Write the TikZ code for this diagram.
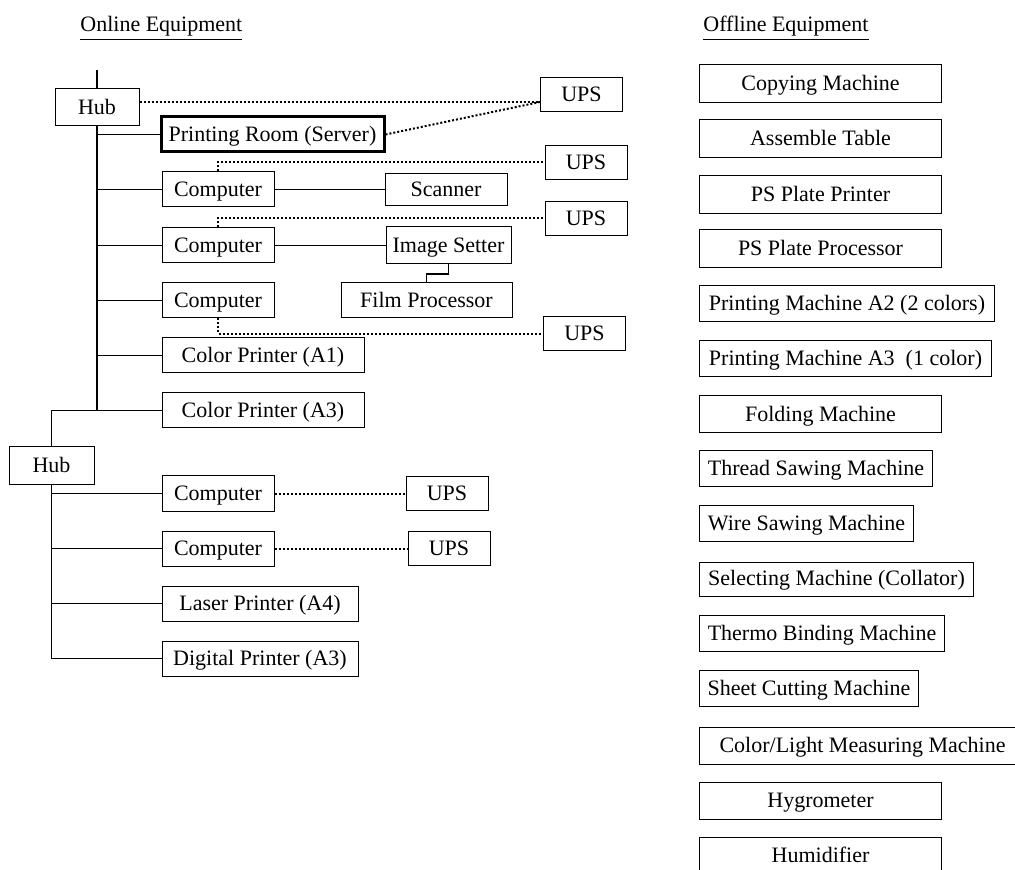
\documentclass[tikz,border=0pt]{standalone}
\usepackage{fontspec}
\setmainfont{Liberation Serif}
\begin{document}
\begin{tikzpicture}[x=0.5pt, y=-0.5pt, font=\fontsize{11}{13}\selectfont,
    unit/.style={draw, line width=0.5pt, inner xsep=1.5pt, inner ysep=1pt,
        text height=0.86em, text depth=0.2em, minimum height=17.5pt},
    ups/.style={unit, minimum width=41pt, minimum height=17pt},
    pc/.style={unit, minimum width=56pt},
    offline/.style={unit, anchor=west, minimum height=18pt},
    heading/.style={anchor=base west, inner sep=0pt},
    link/.style={line width=0.6pt},
    trunk/.style={line width=0.9pt},
    power/.style={line width=1pt, densely dotted}]
    \useasboundingbox (0,0) rectangle (1015,870);

    \node[heading] (online) at (80,32) {\underline{Online Equipment}};
    \node[heading] (offline) at (703,32) {\underline{Offline Equipment}};

    \node[unit, minimum width=42pt, minimum height=18.5pt] (hubA) at (97,107.5) {Hub};
    \node[unit, line width=1.5pt, minimum width=111.5pt] (server) at (272.5,134.5) {Printing Room (Server)};
    \node[ups] (upsA) at (581.5,95) {UPS};
    \node[pc] (compA) at (218,189.5) {Computer};
    \node[unit, minimum width=61pt, minimum height=16pt] (scanner) at (446,189.5) {Scanner};
    \node[ups] (upsB) at (586,162.5) {UPS};
    \node[pc] (compB) at (218,245.5) {Computer};
    \node[unit, minimum width=62.5pt, minimum height=18.5pt] (setter) at (448.5,245.5) {Image Setter};
    \node[ups] (upsC) at (586,218.5) {UPS};
    \node[pc] (compC) at (218,300.5) {Computer};
    \node[unit, minimum width=85.5pt] (film) at (426.5,300.5) {Film Processor};
    \node[ups] (upsD) at (584.5,334) {UPS};
    \node[unit, minimum width=101pt] (printA1) at (263,355.5) {Color Printer (A1)};
    \node[unit, minimum width=101pt] (printA3) at (263,410.5) {Color Printer (A3)};

    \node[unit, minimum width=42.5pt, minimum height=18.5pt] (hubB) at (51.5,465.5) {Hub};
    \node[pc] (compD) at (218,493.5) {Computer};
    \node[ups] (upsE) at (447,493.5) {UPS};
    \node[pc] (compE) at (218,548.5) {Computer};
    \node[ups] (upsF) at (449,548.5) {UPS};
    \node[unit, minimum width=98pt] (laser) at (260,603.5) {Laser Printer (A4)};
    \node[unit, minimum width=98pt] (digital) at (260,658.5) {Digital Printer (A3)};

    \node[offline, minimum width=121pt, minimum height=19pt] (copier) at (699,84) {Copying Machine};
    \node[offline, minimum width=121pt, minimum height=19pt] (assemble) at (699,139) {Assemble Table};
    \node[offline, minimum width=121pt, minimum height=19pt] (psPrinter) at (699,194.5) {PS Plate Printer};
    \node[offline, minimum width=121pt, minimum height=19pt] (psProc) at (699,249) {PS Plate Processor};
    \node[offline, minimum width=147.5pt] (pressA2) at (699,303.5) {Printing Machine A2 (2 colors)};
    \node[offline, minimum width=146pt] (pressA3) at (699,358.5) {Printing Machine A3~~(1 color)};
    \node[offline, minimum width=121pt, minimum height=18.5pt] (folder) at (699,414.5) {Folding Machine};
    \node[offline, minimum width=116.5pt] (threadSaw) at (699,468.5) {Thread Sawing Machine};
    \node[offline, minimum width=107pt] (wireSaw) at (699,523.5) {Wire Sawing Machine};
    \node[offline, minimum width=137pt, minimum height=17pt] (collator) at (699,579) {Selecting Machine (Collator)};
    \node[offline, minimum width=122.5pt] (thermo) at (699,633.5) {Thermo Binding Machine};
    \node[offline, minimum width=109.5pt] (cutter) at (699,688.5) {Sheet Cutting Machine};
    \node[offline, minimum width=163pt, minimum height=18.5pt] (meter) at (699,745.5) {Color/Light Measuring Machine};
    \node[offline, minimum width=121pt, minimum height=18.5pt] (hygro) at (699,800.5) {Hygrometer};
    \node[offline, minimum width=121pt, minimum height=18.5pt] (humid) at (699,855.5) {Humidifier};

    \coordinate (top) at (97,70);
    \coordinate (trunkA) at (97,410.5);
    \coordinate (upsAin) at ([yshift=-3.5pt]upsA.west);
    \coordinate (jog) at (448.5,274);

    \draw[link] (top) -- (hubA.north);
    \draw[trunk] (hubA.south) -- (trunkA) -- (printA3.west);
    \draw[link] (trunkA) -| (hubB.north);
    \foreach \n in {server, compA, compB, compC, printA1}
        \draw[link] (trunkA |- \n.west) -- (\n.west);
    \draw[trunk] (hubB.south) |- (digital.west);
    \foreach \n in {compD, compE, laser}
        \draw[link] (hubB.south |- \n.west) -- (\n.west);

    \draw[link] (compA.east) -- (scanner.west);
    \draw[link] (compB.east) -- (setter.west);
    \draw[link] (setter.south) -- (jog) -| (film.north);

    \draw[power] (hubA.east |- upsAin) -- (upsAin);
    \draw[power] (server.east) -- (upsAin);
    \draw[power] (compA.north) |- (upsB.west);
    \draw[power] (compB.north) |- (upsC.west);
    \draw[power] (compC.south) |- (upsD.west);
    \draw[power] (compD.east) -- (upsE.west);
    \draw[power] (compE.east) -- (upsF.west);
\end{tikzpicture}
\end{document}
